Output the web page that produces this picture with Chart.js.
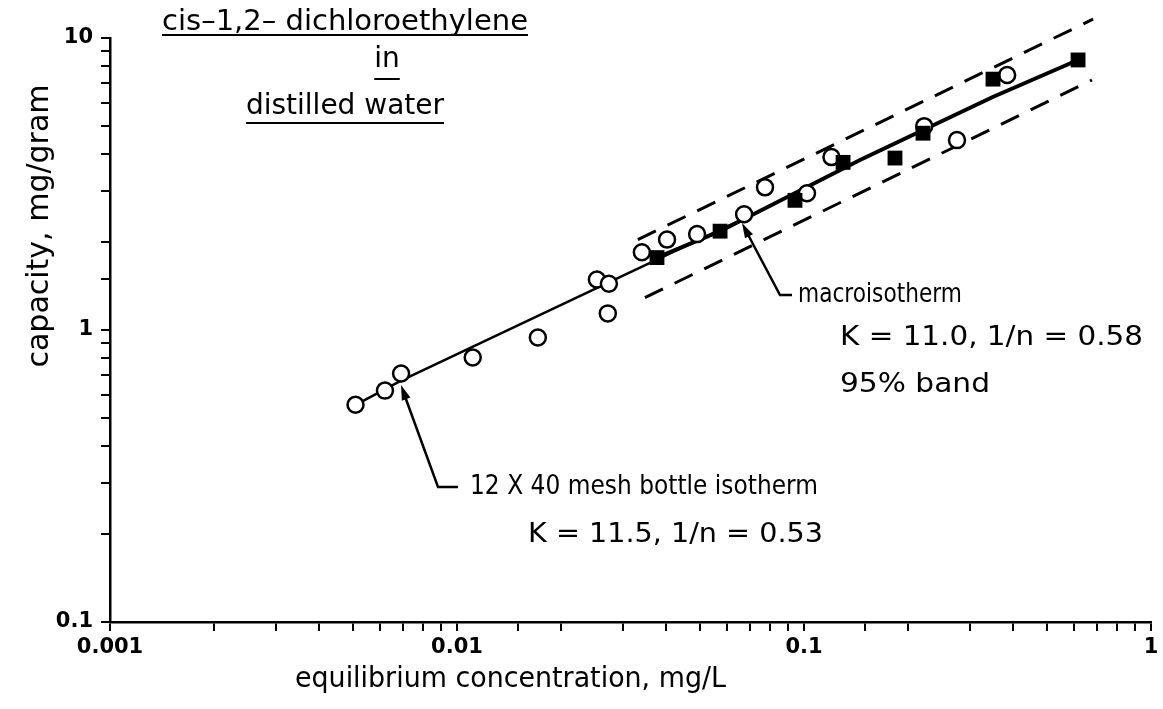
<!DOCTYPE html>
<html>
<head>
<meta charset="utf-8">
<script src="https://cdn.jsdelivr.net/npm/chart.js@4.4.1/dist/chart.umd.min.js"></script>
<style>
html,body{margin:0;padding:0;background:#fff;}
#chart{display:block;}
</style>
</head>
<body>
<canvas id="chart" width="1163" height="709"></canvas>
<script>
// bottle isotherm points (open circles)
const bottleX=[0.0051,0.0062,0.0069,0.0111,0.0171,0.0253,0.0274,0.0272,0.0341,0.0403,0.0492,0.0672,0.0772,0.102,0.120,0.222,0.276,0.385];
const bottleY=[0.555,0.62,0.71,0.805,0.943,1.49,1.44,1.14,1.845,2.04,2.13,2.49,3.08,2.94,3.91,4.99,4.47,7.47];
// macroisotherm points (filled squares)
const macroX=[0.0377,0.0573,0.0942,0.1296,0.1829,0.2203,0.3505,0.6163];
const macroY=[1.77,2.18,2.78,3.75,3.88,4.72,7.23,8.41];
// fitted lines
const bottleFitX=[0.00525,0.0069,0.0315,0.0654];
const bottleFitY=[0.564,0.671,1.575,2.375];
const macroFitX=[0.0377,0.0573,0.145,0.35,0.616];
const macroFitY=[1.77,2.18,3.82,6.28,8.41];
// 95% band
const bandUpperX=[0.0332,0.681];
const bandUpperY=[2.04,11.6];
const bandLowerX=[0.0348,0.676];
const bandLowerY=[1.29,7.18];
// tick labels by decade
const xTickLabels=["0.001","0.01","0.1","1"];
const yTickLabels=["0.1","1","10"];

const FONT='"DejaVu Sans", sans-serif';

function pts(xs,ys){ return xs.map((x,i)=>({x:x,y:ys[i]})); }

function decadeLabel(value,labels,minExp){
  const e=Math.log10(value);
  if(Math.abs(e-Math.round(e))>1e-6) return "";
  const l=labels[Math.round(e)-minExp];
  return l===undefined?"":l;
}

function arrowHead(ctx,fx,fy,tx,ty){
  const a=Math.atan2(ty-fy,tx-fx), len=15, w=4.5;
  ctx.beginPath();
  ctx.moveTo(tx,ty);
  ctx.lineTo(tx-len*Math.cos(a)+w*Math.sin(a),ty-len*Math.sin(a)-w*Math.cos(a));
  ctx.lineTo(tx-len*Math.cos(a)-w*Math.sin(a),ty-len*Math.sin(a)+w*Math.cos(a));
  ctx.closePath(); ctx.fill();
}

// the original lettering has narrow lowercase and wide symbols, so fit each line to its measured width
function fitText(ctx,text,x,y,width){
  const w=ctx.measureText(text).width;
  ctx.save(); ctx.translate(x,y); ctx.scale(width/w,1);
  ctx.fillText(text,0,0);
  ctx.restore();
}

function underlined(ctx,text,x,y,uy){
  ctx.fillText(text,x,y);
  const w=ctx.measureText(text).width;
  ctx.beginPath(); ctx.moveTo(x-w/2,uy); ctx.lineTo(x+w/2,uy); ctx.stroke();
}

const annotations={
  id:"annotations",
  afterDraw(chart){
    const ctx=chart.ctx;
    ctx.save();
    ctx.fillStyle="#000"; ctx.strokeStyle="#000";

    // title block
    ctx.textAlign="center"; ctx.textBaseline="alphabetic"; ctx.lineWidth=2;
    ctx.font="29px "+FONT;
    underlined(ctx,"cis\u20131,2\u2013 dichloroethylene",345,30,35);
    ctx.font="28px "+FONT;
    underlined(ctx,"in",387,67,79);
    underlined(ctx,"distilled water",345,114,123);

    // axis titles
    ctx.font="28px "+FONT; ctx.textAlign="left"; ctx.textBaseline="middle";
    fitText(ctx,"equilibrium concentration, mg/L",295,680,431);
    ctx.save(); ctx.translate(40,226); ctx.rotate(-Math.PI/2);
    ctx.textAlign="center"; ctx.font="30px "+FONT; ctx.fillText("capacity, mg/gram",0,0); ctx.restore();

    // callouts
    ctx.lineWidth=2.5;
    ctx.beginPath(); ctx.moveTo(458,487); ctx.lineTo(438,487); ctx.lineTo(403,391); ctx.stroke();
    arrowHead(ctx,438,487,401,385);
    ctx.beginPath(); ctx.moveTo(792,295); ctx.lineTo(780,295); ctx.lineTo(745,229); ctx.stroke();
    arrowHead(ctx,780,295,742,223);

    ctx.font="27px "+FONT;
    fitText(ctx,"12 X 40 mesh bottle isotherm",470,487,348);
    fitText(ctx,"K = 11.5, 1/n = 0.53",528,535,295);
    fitText(ctx,"macroisotherm",798,295,164);
    fitText(ctx,"K = 11.0, 1/n = 0.58",840,338,303);
    fitText(ctx,"95% band",840,385,150);
    ctx.restore();
  }
};

const axisStyle={
  grid:{display:true,drawOnChartArea:false,drawTicks:true,tickLength:9,color:"#000",lineWidth:2},
  border:{display:true,color:"#000",width:2.5}
};

new Chart(document.getElementById("chart"),{
  type:"scatter",
  data:{datasets:[
    {label:"macro points",data:pts(macroX,macroY),pointStyle:"rect",pointRadius:10.5,backgroundColor:"#000",borderColor:"#000",borderWidth:0,showLine:false,order:0},
    {label:"bottle points",data:pts(bottleX,bottleY),pointStyle:"circle",pointRadius:8,backgroundColor:"#fff",borderColor:"#000",borderWidth:2.5,showLine:false,order:1},
    {label:"macroisotherm",data:pts(macroFitX,macroFitY),showLine:true,pointRadius:0,borderColor:"#000",borderWidth:4,order:2},
    {label:"bottle isotherm",data:pts(bottleFitX,bottleFitY),showLine:true,pointRadius:0,borderColor:"#000",borderWidth:2.5,order:3},
    {label:"upper band",data:pts(bandUpperX,bandUpperY),showLine:true,pointRadius:0,borderColor:"#000",borderWidth:3,borderDash:[20,13],clip:false,order:4},
    {label:"lower band",data:pts(bandLowerX,bandLowerY),showLine:true,pointRadius:0,borderColor:"#000",borderWidth:3,borderDash:[20,13],order:5}
  ]},
  options:{
    responsive:false,
    animation:false,
    layout:{padding:{top:38,right:12,left:0,bottom:0}},
    plugins:{legend:{display:false},tooltip:{enabled:false}},
    scales:{
      x:Object.assign({type:"logarithmic",min:0.001,max:1,
        afterFit(s){ s.height=709-622; },
        ticks:{autoSkip:false,maxRotation:0,padding:4,color:"#000",font:{family:FONT,size:21,weight:"bold"},
          callback:v=>decadeLabel(v,xTickLabels,-3)}},axisStyle),
      y:Object.assign({type:"logarithmic",min:0.1,max:10,
        afterFit(s){ s.width=110; },
        ticks:{autoSkip:false,padding:8,color:"#000",font:{family:FONT,size:21,weight:"bold"},
          callback:v=>decadeLabel(v,yTickLabels,-1)}},axisStyle)
    }
  },
  plugins:[annotations]
});
</script>
</body>
</html>
